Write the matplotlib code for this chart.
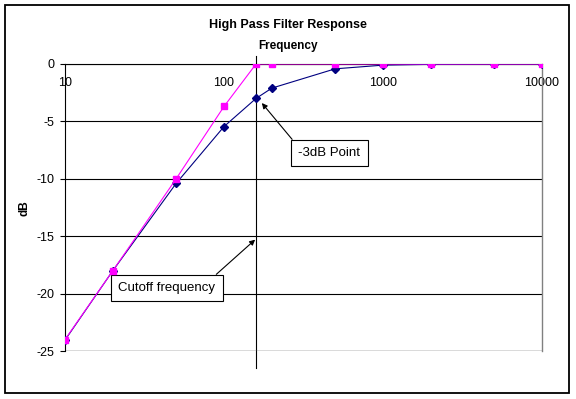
import numpy as np
import matplotlib
matplotlib.use('Agg')
from matplotlib import pyplot as plt
from matplotlib.patches import Rectangle
from matplotlib.ticker import NullLocator

plt.rcParams['font.family'] = ['Liberation Sans', 'DejaVu Sans']
plt.rcParams['axes.unicode_minus'] = False

# frequency points (Hz) and responses (dB)
freq = [10, 20, 50, 100, 159, 200, 500, 1000, 2000, 5000, 10000]
actual_db = [-24.05, -18.0, -10.4, -5.45, -3.0, -2.1, -0.42, -0.1, -0.03, 0.0, 0.0]
ideal_db = [-24.0, -18.0, -10.0, -3.7, 0.0, 0.0, 0.0, 0.0, 0.0, 0.0, 0.0]
cutoff = 159

xticks = [10, 100, 1000, 10000]
xtick_labels = ['10', '100', '1000', '10000']
yticks = [0, -5, -10, -15, -20, -25]

W, H = 576, 399
fig = plt.figure(figsize=(W / 100, H / 100), dpi=100)
ax = fig.add_axes([65 / W, 1 - 351 / H, (542 - 65) / W, (351 - 64) / H])

# outer chart frame
fig.patches.append(Rectangle((5 / W, 1 - 393 / H), 564 / W, 388 / H,
                             transform=fig.transFigure, fill=False,
                             ec='black', lw=1.3))

ax.set_xscale('log')
ax.set_xlim(10, 10000)
ax.set_ylim(-25, 0)

ax.plot(freq, actual_db, color='#000080', lw=0.8, marker='D', ms=3.8,
        mfc='#000080', mec='#000080', zorder=3)
ax.plot(freq, ideal_db, color='#FF00FF', lw=0.8, marker='s', ms=4.2,
        mfc='#FF00FF', mec='#FF00FF', zorder=4)

# cutoff line, runs past the plot area
ax.plot([cutoff, cutoff], [0.7, -26.5], color='black', lw=0.8,
        clip_on=False, zorder=2)

ax.yaxis.grid(True, color='black', lw=0.8)
ax.axhline(-25, color='#808080', lw=1.0, zorder=2.5)

ax.spines['top'].set_visible(False)
ax.spines['bottom'].set_position(('data', 0))
ax.spines['bottom'].set_color('black')
ax.spines['bottom'].set_linewidth(0.8)
ax.spines['left'].set_linewidth(0.8)
ax.spines['right'].set_color('#808080')
ax.spines['right'].set_linewidth(1.0)

ax.set_xticks(xticks, xtick_labels)
ax.xaxis.set_minor_locator(NullLocator())
ax.set_yticks(yticks)
ax.tick_params(axis='x', length=0, pad=9.5, labelsize=9)
ax.tick_params(axis='y', length=3.6, width=0.8, direction='out', pad=4,
               labelsize=9)

fig.text(288 / W, 1 - 25 / H, 'High Pass Filter Response', ha='center',
         va='center', fontsize=9, fontweight='bold')
fig.text(288 / W, 1 - 46 / H, 'Frequency', ha='center', va='center',
         fontsize=8.5, fontweight='bold')
fig.text(25 / W, 1 - 208 / H, 'dB', ha='center', va='center', rotation=90,
         fontsize=8.5, fontweight='bold')

box = dict(boxstyle='square,pad=0.55', fc='white', ec='black', lw=0.8)
ax.annotate('-3dB Point', xy=(173, -3.4), xytext=(329.5, H - 153),
            textcoords='figure pixels', ha='center', va='center',
            fontsize=9.5, bbox=box,
            arrowprops=dict(arrowstyle='-|>', color='black', lw=0.8,
                            mutation_scale=8, relpos=(0, 1),
                            shrinkA=0, shrinkB=0))
ax.annotate('Cutoff frequency', xy=(157, -15.3), xytext=(167, H - 288),
            textcoords='figure pixels', ha='center', va='center',
            fontsize=9.5, bbox=box,
            arrowprops=dict(arrowstyle='-|>', color='black', lw=0.8,
                            mutation_scale=8, relpos=(0.92, 1),
                            shrinkA=0, shrinkB=0))

fig.savefig('out.png', dpi=100)
